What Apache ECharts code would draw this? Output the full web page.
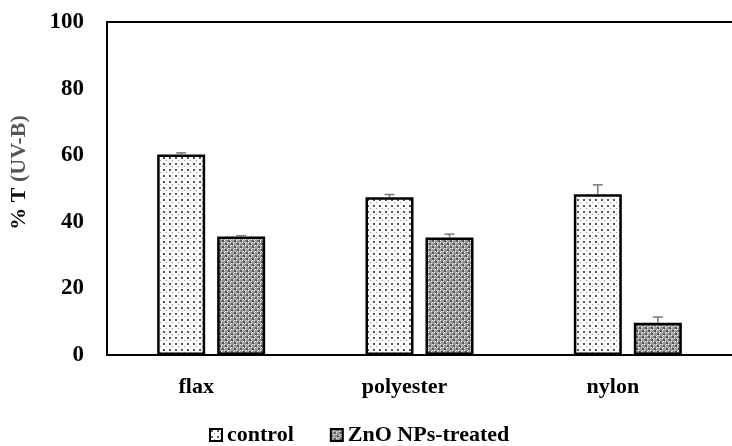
<!DOCTYPE html>
<html><head><meta charset="utf-8">
<script src="https://cdn.jsdelivr.net/npm/echarts@6/dist/echarts.min.js"></script>
<style>html,body{margin:0;padding:0;background:#fff}#c{width:732px;height:446px}</style>
</head><body><div id="c"></div>
<script>
var categories = ['flax', 'polyester', 'nylon'];
var controlValues = [60.2, 47.4, 48.3];
var controlErrors = [0.5, 0.8, 2.8];
var znoValues = [35.6, 35.3, 9.7];
var znoErrors = [0.2, 1.0, 1.7];
var yTicks = [0, 20, 40, 60, 80, 100];
var seriesNames = ['control', 'ZnO NPs-treated'];

function makePattern(kind) {
  var c = document.createElement('canvas');
  var ctx = c.getContext('2d');
  if (kind === 'dots') {
    c.width = 6; c.height = 6;
    ctx.fillStyle = '#ffffff'; ctx.fillRect(0, 0, 6, 6);
    ctx.fillStyle = '#555555';
    ctx.fillRect(1, 1, 2, 2);
    ctx.fillStyle = '#888888';
    ctx.fillRect(4, 4, 1, 1);
  } else {
    c.width = 6; c.height = 6;
    ctx.fillStyle = '#9a9a9a'; ctx.fillRect(0, 0, 6, 6);
    ctx.fillStyle = '#555555';
    ctx.fillRect(0, 0, 2, 2); ctx.fillRect(3, 3, 2, 2);
    ctx.fillStyle = '#f2f2f2';
    ctx.fillRect(2, 0, 1, 1); ctx.fillRect(0, 2, 1, 1);
    ctx.fillRect(5, 3, 1, 1); ctx.fillRect(3, 5, 1, 1);
    ctx.fillRect(2, 2, 1, 1); ctx.fillRect(5, 5, 1, 1);
  }
  return { image: c, repeat: 'repeat' };
}

var font = 'Liberation Serif';
var chart = echarts.init(document.getElementById('c'), null, { renderer: 'canvas' });

function errSeries(values, errs, idx) {
  var data = values.map(function (v, i) { return [i, v, errs[i]]; });
  return {
    type: 'custom',
    name: 'err' + idx,
    z: 5,
    silent: true,
    data: data,
    renderItem: function (params, api) {
      var ci = api.value(0), v = api.value(1), e = api.value(2);
      var base = api.coord([ci, v]);
      var topP = api.coord([ci, v + e]);
      var x = base[0] + (idx === 0 ? -30 : 30);
      var cap = 5;
      return {
        type: 'group',
        children: [
          { type: 'line', shape: { x1: x, y1: base[1], x2: x, y2: topP[1] }, style: { stroke: '#777', lineWidth: 1.5 } },
          { type: 'line', shape: { x1: x - cap, y1: topP[1], x2: x + cap, y2: topP[1] }, style: { stroke: '#777', lineWidth: 1.5 } }
        ]
      };
    }
  };
}

var option = {
  animation: false,
  backgroundColor: '#ffffff',
  grid: { left: 105, right: -6, top: 22, bottom: 91 },
  legend: {
    data: seriesNames,
    top: 419,
    left: 204,
    itemWidth: 12,
    itemHeight: 12,
    itemGap: 36,
    icon: 'rect',
    textStyle: { fontFamily: font, fontWeight: 'bold', fontSize: 22, color: '#000' }
  },
  xAxis: [{
    type: 'category',
    data: categories,
    axisLine: { lineStyle: { color: '#000', width: 2 } },
    axisTick: { show: false },
    axisLabel: { fontFamily: font, fontWeight: 'bold', fontSize: 22, color: '#000', margin: 21, padding: [0, 30, 0, 0] }
  }, {
    type: 'category',
    position: 'top',
    data: categories,
    axisLine: { lineStyle: { color: '#000', width: 2 } },
    axisTick: { show: false },
    axisLabel: { show: false }
  }],
  yAxis: {
    type: 'value',
    min: yTicks[0],
    max: yTicks[yTicks.length - 1],
    interval: yTicks[1] - yTicks[0],
    axisLine: { show: true, lineStyle: { color: '#000', width: 2 } },
    axisTick: { show: false },
    splitLine: { show: false },
    axisLabel: { fontFamily: font, fontWeight: 'bold', fontSize: 23, color: '#000', margin: 23 },
    name: '{a|% T} {b|(UV-B)}',
    nameLocation: 'middle',
    nameGap: 77,
    nameRotate: 90,
    nameTextStyle: {
      fontFamily: font, fontWeight: 'bold', fontSize: 22, color: '#000',
      padding: [0, 0, 0, 32],
      rich: {
        a: { fontFamily: font, fontWeight: 'bold', fontSize: 22, color: '#111' },
        b: { fontFamily: font, fontWeight: 'bold', fontSize: 22, color: '#555' }
      }
    }
  },
  series: [{
    name: seriesNames[0],
    type: 'bar',
    data: controlValues,
    barWidth: 48,
    barGap: '25%',
    itemStyle: { color: makePattern('dots'), borderColor: '#000', borderWidth: 2.5 }
  }, {
    name: seriesNames[1],
    type: 'bar',
    data: znoValues,
    barWidth: 48,
    barGap: '25%',
    itemStyle: { color: makePattern('cross'), borderColor: '#000', borderWidth: 2.5 }
  },
  errSeries(controlValues, controlErrors, 0),
  errSeries(znoValues, znoErrors, 1)]
};
chart.setOption(option);
</script>
</body></html>
